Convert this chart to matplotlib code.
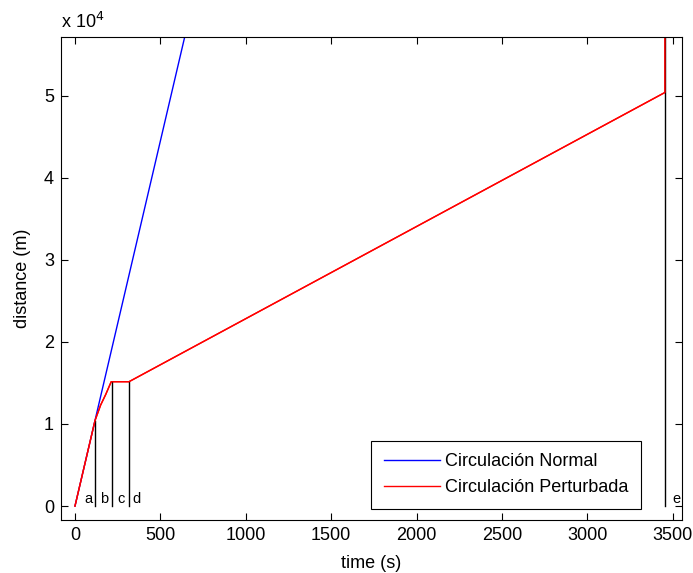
import matplotlib.pyplot as plt
from matplotlib.ticker import FuncFormatter

plt.rcParams["font.family"] = ["Liberation Sans", "DejaVu Sans"]

# blue: normal traffic, straight line
normal_time = [0, 700]
normal_dist = [0, 62300]

# red: perturbed traffic
perturbed_time = [0, 117, 150, 180, 212, 316, 3454, 3454]
perturbed_dist = [0, 10400, 12300, 13600, 15150, 15150, 50400, 70000]

# phase boundaries (vertical black lines)
phase_time = [117, 218, 316, 3454]
phase_top = [10400, 15150, 15150, 70000]

phase_names = ["a", "b", "c", "d", "e"]
phase_label_time = [78, 172, 269, 361, 3519]

fs = 13

fig = plt.figure(figsize=(6.93, 5.73), dpi=100)
ax = fig.add_axes([0.088, 0.0925, 0.896, 0.843])

ax.plot(normal_time, normal_dist, color="blue", linewidth=1, label="Circulación Normal")
ax.plot(perturbed_time, perturbed_dist, color="red", linewidth=1, label="Circulación Perturbada")

for t, top in zip(phase_time, phase_top):
    ax.plot([t, t], [0, top], color="black", linewidth=1)

# keep red drawn over the black lines
ax.plot(perturbed_time, perturbed_dist, color="red", linewidth=1)

for name, t in zip(phase_names, phase_label_time):
    ax.text(t, 0, name, fontsize=10.5, ha="center", va="bottom")

ax.set_xlim(-82, 3553)
ax.set_ylim(-1700, 57160)
ax.set_xticks(range(0, 3501, 500))
ax.set_yticks([0, 10000, 20000, 30000, 40000, 50000])
ax.yaxis.set_major_formatter(FuncFormatter(lambda v, p: f"{v / 1e4:g}"))
ax.text(0.0, 1.01, r"x 10$^4$", transform=ax.transAxes, fontsize=fs, ha="left", va="bottom")

ax.tick_params(direction="in", top=True, right=True, length=5, labelsize=fs, pad=5)
for s in ax.spines.values():
    s.set_linewidth(0.8)

ax.set_xlabel("time (s)", fontsize=fs, labelpad=8)
ax.set_ylabel("distance (m)", fontsize=fs, labelpad=9)

leg = ax.legend(loc="lower right", bbox_to_anchor=(0.934, 0.0228), fancybox=False,
                edgecolor="black", framealpha=1, fontsize=fs, handlelength=3.1,
                handletextpad=0.3, borderpad=0.7, labelspacing=0.5, borderaxespad=0)
leg.get_frame().set_linewidth(0.8)

fig.savefig("out.png", dpi=100)
